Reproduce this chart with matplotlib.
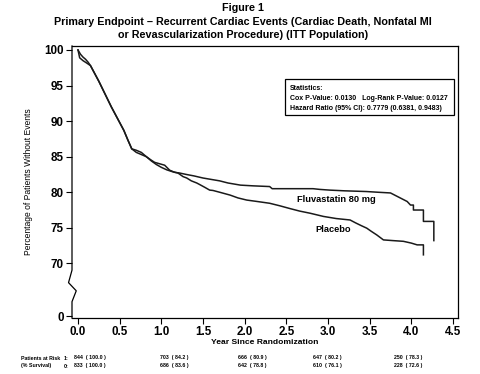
import matplotlib
matplotlib.use("Agg")
import matplotlib.pyplot as plt
from matplotlib import font_manager
from matplotlib.patches import Rectangle
from matplotlib.lines import Line2D

# Kaplan-Meier style survival curves
fluva_t = [0, 0.03, 0.06, 0.09, 0.12, 0.15, 0.2, 0.25, 0.3, 0.35, 0.4, 0.45, 0.5,
           0.55, 0.6, 0.645, 0.7, 0.76, 0.82, 0.88, 0.92, 0.98, 1.04, 1.1, 1.16,
           1.22, 1.3, 1.39, 1.5, 1.6, 1.7, 1.8, 1.9, 1.95, 2.1, 2.3, 2.33, 2.55,
           2.82, 2.9, 3.02, 3.2, 3.46, 3.6, 3.75, 3.8, 3.85, 3.9, 3.95, 3.99,
           4.025, 4.025, 4.145, 4.145, 4.27, 4.27]
fluva_s = [100, 99.4, 99.0, 98.7, 98.3, 97.8, 96.7, 95.6, 94.4, 93.2, 92.0, 90.9,
           89.8, 88.7, 87.3, 86.1, 85.9, 85.6, 85.0, 84.5, 84.2, 84.0, 83.8, 83.1,
           82.8, 82.7, 82.5, 82.3, 82.0, 81.8, 81.6, 81.3, 81.1, 81.0, 80.9, 80.8,
           80.5, 80.5, 80.5, 80.4, 80.3, 80.2, 80.1, 80.0, 79.9, 79.6, 79.3, 79.0,
           78.7, 78.2, 78.2, 77.5, 77.5, 75.9, 75.9, 73.2]

placebo_t = [0, 0.02, 0.06, 0.1, 0.15, 0.2, 0.25, 0.3, 0.35, 0.4, 0.45, 0.5, 0.55,
             0.6, 0.645, 0.7, 0.76, 0.82, 0.88, 0.94, 1.0, 1.065, 1.13, 1.2, 1.26,
             1.305, 1.36, 1.425, 1.465, 1.52, 1.58, 1.62, 1.7, 1.825, 1.92, 2.025,
             2.15, 2.3, 2.42, 2.545, 2.66, 2.785, 2.945, 3.1, 3.265, 3.33, 3.4,
             3.465, 3.52, 3.585, 3.665, 3.78, 3.905, 4.0, 4.07, 4.145, 4.145]
placebo_s = [100, 98.9, 98.5, 98.2, 97.8, 96.7, 95.6, 94.4, 93.2, 92.0, 90.9, 89.8,
             88.7, 87.3, 86.1, 85.6, 85.3, 85.0, 84.4, 83.9, 83.5, 83.15, 82.9, 82.7,
             82.2, 82.0, 81.6, 81.3, 81.05, 80.7, 80.3, 80.25, 80.0, 79.6, 79.2,
             78.9, 78.7, 78.45, 78.1, 77.7, 77.35, 77.05, 76.6, 76.3, 76.1, 75.7,
             75.3, 74.95, 74.5, 74.0, 73.3, 73.2, 73.1, 72.85, 72.6, 72.6, 71.2]

xticks = [0.0, 0.5, 1.0, 1.5, 2.0, 2.5, 3.0, 3.5, 4.0, 4.5]
ytick_labels = ["0", "70", "75", "80", "85", "90", "95", "100"]

# patients at risk table
risk_fluva = [844, 703, 666, 647, 250]
surv_fluva = ["100.0", "84.2", "80.9", "80.2", "78.3"]
risk_placebo = [833, 686, 642, 610, 228]
surv_placebo = ["100.0", "83.6", "78.8", "76.1", "72.6"]

stats_lines = ["Statistics:",
               "Cox P-Value: 0.0130   Log-Rank P-Value: 0.0127",
               "Hazard Ratio (95% CI): 0.7779 (0.6381, 0.9483)"]

available = {f.name for f in font_manager.fontManager.ttflist}
FONT = "Liberation Sans Narrow" if "Liberation Sans Narrow" in available else "Liberation Sans"
plt.rcParams["font.family"] = [FONT, "DejaVu Sans"]

W, H = 480, 374
fig = plt.figure(figsize=(W / 100, H / 100), dpi=100)
renderer = fig.canvas.get_renderer()


def fx(px):
    return px / W


def fy(py):
    return 1 - py / H


def fit_size(s, target_px, weight="bold", rotation=0):
    # font size that makes the string about target_px wide in this font
    t = fig.text(0, 0, s, fontsize=10, fontweight=weight, rotation=rotation)
    bb = t.get_window_extent(renderer)
    t.remove()
    span = bb.height if rotation else bb.width
    return 10 * target_px / span


ax = fig.add_axes([fx(72), fy(318), (458 - 72) / W, (318 - 46) / H])

# broken y axis: 0 sits just below 70
zero_pos = 62.6
ax.set_xlim(-0.072, 4.56)
ax.set_ylim(62.32, 100.56)

ax.plot(fluva_t, fluva_s, color="#1a1a1a", lw=1.1)
ax.plot(placebo_t, placebo_s, color="#1a1a1a", lw=1.1)

lab_fs = fit_size("Fluvastatin 80 mg", 68) * 1.15
ax.text(3.096, 79.04, "Fluvastatin 80 mg", ha="center", va="center",
        fontsize=lab_fs, fontweight="bold")
ax.text(3.06, 74.7, "Placebo", ha="center", va="center",
        fontsize=lab_fs, fontweight="bold")

tick_fs = fit_size("100", 16) * 1.22
ax.set_xticks(xticks)
ax.set_xticklabels([f"{v:.1f}" for v in xticks])
ax.set_yticks([zero_pos, 70, 75, 80, 85, 90, 95, 100])
ax.set_yticklabels(ytick_labels)
ax.tick_params(axis="both", direction="out", length=4.5, width=0.8, pad=1.5,
               labelsize=tick_fs)
for lab in ax.get_xticklabels() + ax.get_yticklabels():
    lab.set_fontweight("bold")

for sp in ax.spines.values():
    sp.set_linewidth(0.9)
ax.spines["left"].set_visible(False)

# left spine with a zigzag break
brk = Line2D([0, 0, -0.009, 0.011, 0.0, 0], [1, 0.176, 0.13, 0.10, 0.06, 0],
             transform=ax.transAxes, color="black", lw=0.9, clip_on=False)
ax.add_line(brk)

ax.set_xlabel("Year Since Randomization",
              fontsize=fit_size("Year Since Randomization", 92) * 1.15,
              fontweight="bold")
ax.xaxis.set_label_coords(0.5, -0.078)
ax.set_ylabel("Percentage of Patients Without Events",
              fontsize=fit_size("Percentage of Patients Without Events", 133,
                                weight="normal", rotation=90) * 1.1)
ax.yaxis.set_label_coords(-0.1, 0.5)

# title
title_fs = fit_size("Primary Endpoint \u2013 Recurrent Cardiac Events (Cardiac Death, Nonfatal MI", 320) * 1.18
fig.text(fx(243), fy(8), "Figure 1", ha="center", va="center",
         fontsize=title_fs, fontweight="bold")
fig.text(fx(243), fy(22),
         "Primary Endpoint \u2013 Recurrent Cardiac Events (Cardiac Death, Nonfatal MI",
         ha="center", va="center", fontsize=title_fs, fontweight="bold")
fig.text(fx(243), fy(35), "or Revascularization Procedure) (ITT Population)",
         ha="center", va="center", fontsize=title_fs, fontweight="bold")

# statistics box
fig.patches.append(Rectangle((fx(285), fy(115)), (454 - 285) / W, (115 - 79) / H,
                             transform=fig.transFigure, fill=False,
                             edgecolor="black", lw=0.9))
stats_fs = fit_size(stats_lines[1], 157)
for i, line in enumerate(stats_lines):
    fig.text(fx(290), fy(88 + 10.5 * i), line, ha="left", va="center",
             fontsize=stats_fs, fontweight="bold")

# patients at risk
col_x = [74, 160, 238, 313, 394]
row_y = [358, 366]
risk_fs = fit_size("Patients at Risk", 36) * 1.08
fig.text(fx(21), fy(row_y[0]), "Patients at Risk", ha="left", va="center",
         fontsize=risk_fs, fontweight="bold")
fig.text(fx(21), fy(row_y[1]), "(% Survival)", ha="left", va="center",
         fontsize=risk_fs, fontweight="bold")
fig.text(fx(64), fy(row_y[0]), "1:", ha="left", va="center", fontsize=risk_fs,
         fontweight="bold")
fig.text(fx(64), fy(row_y[1]), "0:", ha="left", va="center", fontsize=risk_fs,
         fontweight="bold")
for i, cx in enumerate(col_x):
    fig.text(fx(cx), fy(row_y[0]), f"{risk_fluva[i]}  ( {surv_fluva[i]} )",
             ha="left", va="center", fontsize=risk_fs, fontweight="bold")
    fig.text(fx(cx), fy(row_y[1]), f"{risk_placebo[i]}  ( {surv_placebo[i]} )",
             ha="left", va="center", fontsize=risk_fs, fontweight="bold")

fig.savefig("out.png", dpi=100)
